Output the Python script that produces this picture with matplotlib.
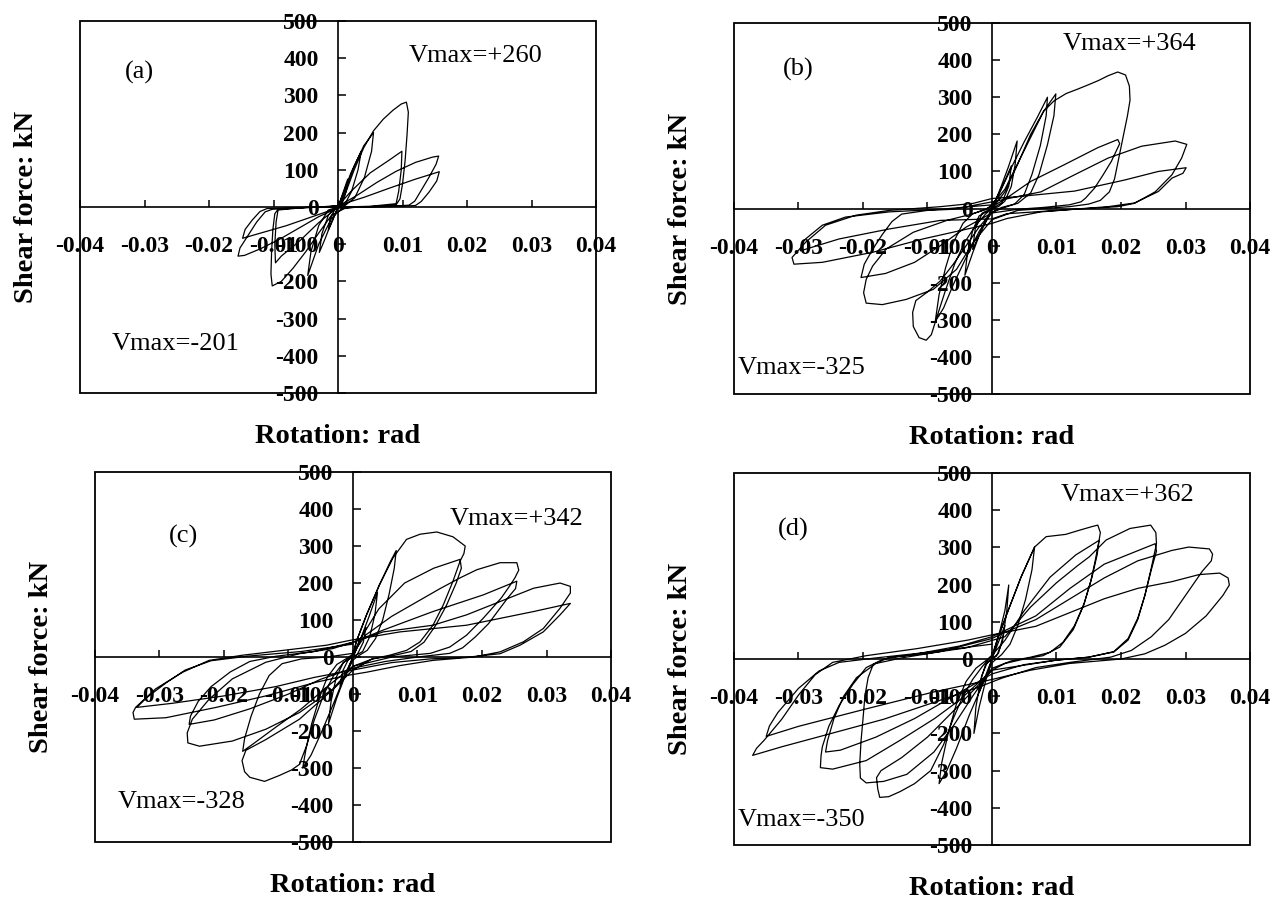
"""
Courbes d'hysteresis effort tranchant / rotation pour quatre specimens (a)-(d).
Figure 2x2, cadres facon Excel avec axes centres sur l'origine.
"""
import matplotlib
matplotlib.use("Agg")
import matplotlib.pyplot as plt
from matplotlib.patches import Rectangle

plt.rcParams["font.family"] = ["Liberation Serif", "DejaVu Serif"]

# ---- axes ----
x_ticks = [-0.04, -0.03, -0.02, -0.01, 0.0, 0.01, 0.02, 0.03, 0.04]
x_tick_labels = ["-0.04", "-0.03", "-0.02", "-0.01", "0", "0.01", "0.02", "0.03", "0.04"]
y_ticks = [-500, -400, -300, -200, -100, 0, 100, 200, 300, 400, 500]
y_tick_labels = ["-500", "-400", "-300", "-200", "-100", "0", "100", "200", "300", "400", "500"]

panel_tags = ["(a)", "(b)", "(c)", "(d)"]
vmax_pos = ["Vmax=+260", "Vmax=+364", "Vmax=+342", "Vmax=+362"]
vmax_neg = ["Vmax=-201", "Vmax=-325", "Vmax=-328", "Vmax=-350"]

# ---- courbes : (rotation rad, effort kN) ----
hyst_a = [
    (0.0, 0), (0.0008, 40), (0.0015, 75), (0.0013, 45), (0.0006, 8), (0.0, 0),
    (-0.0008, -35), (-0.0015, -62), (-0.0012, -30), (-0.0004, -4), (0.0, 0),
    (0.001, 45), (0.002, 92), (0.0032, 135), (0.0036, 150), (0.0031, 100), (0.0021, 42), (0.001, 6), (0.0, 0),
    (-0.001, -40), (-0.002, -85), (-0.0029, -122), (-0.0025, -72), (-0.0015, -22), (-0.0005, -3), (0.0, 0),
    (0.001, 40), (0.0025, 110), (0.004, 165), (0.0055, 200), (0.0052, 150), (0.0041, 80), (0.0026, 25), (0.001, 3),
    (-0.001, -30), (-0.003, -100), (-0.0047, -184), (-0.0042, -120), (-0.003, -50), (-0.0015, -8), (0.0, 0),
    (0.001, 30), (0.0025, 100), (0.004, 160), (0.0055, 205), (0.007, 236), (0.0085, 260), (0.0098, 277),
    (0.0106, 282), (0.0109, 255), (0.0107, 195), (0.0104, 125), (0.0100, 62), (0.0096, 22), (0.0090, 6),
    (0.006, 2), (0.003, 0), (0.001, -4), (-0.001, -22), (-0.003, -70), (-0.005, -120), (-0.007, -165),
    (-0.0088, -200), (-0.0102, -212), (-0.0104, -180), (-0.0103, -120), (-0.0101, -60), (-0.0098, -18),
    (-0.0093, -6), (-0.006, -2), (-0.002, 0), (0.0, 3),
    (0.002, 42), (0.005, 92), (0.008, 127), (0.0099, 150), (0.0098, 100), (0.0094, 42), (0.0090, 9),
    (0.005, 2), (0.0, 0), (-0.003, -42), (-0.006, -92), (-0.0088, -132), (-0.0097, -150), (-0.0098, -100),
    (-0.0096, -40), (-0.0093, -8), (-0.005, -1), (0.0, 2),
    (0.003, 32), (0.006, 66), (0.009, 96), (0.012, 120), (0.0146, 134), (0.0156, 137), (0.0152, 115),
    (0.0141, 80), (0.0129, 45), (0.0119, 16), (0.0110, 5), (0.008, 2), (0.004, 0), (0.0, -2),
    (-0.003, -26), (-0.006, -56), (-0.009, -86), (-0.012, -112), (-0.0145, -130), (-0.0155, -132),
    (-0.0152, -110), (-0.0139, -75), (-0.0126, -40), (-0.0113, -13), (-0.0102, -6), (-0.007, -3),
    (-0.003, 0), (0.0, 4),
    (0.004, 26), (0.008, 51), (0.012, 75), (0.0157, 95), (0.0153, 70), (0.0141, 40), (0.0129, 15),
    (0.012, 4), (0.008, 1), (0.003, 0), (0.0, -2), (-0.004, -26), (-0.008, -50), (-0.012, -70),
    (-0.0148, -84), (-0.0144, -60), (-0.0133, -35), (-0.0121, -12), (-0.011, -4), (-0.006, -1), (0.0, 0),
]

hyst_b = [
    (0.0, 0), (0.001, 40), (0.002, 75), (0.003, 115), (0.0026, 60), (0.0015, 15), (0.0, 0),
    (-0.001, -38), (-0.002, -72), (-0.003, -110), (-0.0026, -55), (-0.0015, -12), (0.0, 0),
    (0.001, 40), (0.0025, 110), (0.0039, 182), (0.0036, 120), (0.003, 60), (0.002, 20), (0.001, 5), (0.0, 0),
    (-0.0015, -50), (-0.003, -120), (-0.0042, -180), (-0.0038, -120), (-0.003, -60), (-0.002, -20), (0.0, 0),
    (0.001, 35), (0.003, 110), (0.005, 180), (0.007, 245), (0.0086, 300), (0.0084, 250), (0.0075, 170),
    (0.0062, 92), (0.005, 38), (0.0035, 12), (0.002, 3), (0.0, -10), (-0.002, -62), (-0.004, -132),
    (-0.006, -205), (-0.0075, -268), (-0.0088, -305), (-0.0082, -232), (-0.0072, -160), (-0.006, -92),
    (-0.0045, -40), (-0.003, -14), (-0.001, -3), (0.0, 10),
    (0.002, 52), (0.004, 122), (0.006, 192), (0.008, 262), (0.0099, 309), (0.0096, 250), (0.0086, 172),
    (0.0073, 92), (0.006, 42), (0.004, 14), (0.0015, 3), (0.0, -10), (-0.002, -50), (-0.004, -100),
    (-0.006, -150), (-0.008, -195), (-0.010, -225), (-0.0118, -248), (-0.0123, -280), (-0.0122, -318),
    (-0.0113, -348), (-0.0102, -355), (-0.0094, -340), (-0.0085, -290), (-0.0072, -220), (-0.0058, -150),
    (-0.0042, -90), (-0.0025, -45), (-0.001, -15), (0.0, 0),
    (0.002, 45), (0.004, 120), (0.006, 200), (0.008, 262), (0.0096, 290), (0.0115, 310), (0.0133, 322),
    (0.015, 334), (0.0165, 345), (0.018, 358), (0.0195, 368), (0.0207, 360), (0.0213, 330), (0.0214, 292),
    (0.021, 250), (0.0203, 190), (0.0196, 130), (0.019, 80), (0.0182, 45), (0.0168, 22), (0.015, 12),
    (0.012, 5), (0.008, 0), (0.004, -5), (0.0, -30), (-0.0029, -91), (-0.0055, -164), (-0.0091, -218),
    (-0.0133, -245), (-0.017, -259), (-0.0195, -255), (-0.0199, -227), (-0.0195, -191), (-0.0185, -155),
    (-0.0164, -109), (-0.0122, -64), (-0.007, -32), (-0.0029, -14), (0.0, 5),
    (0.002, 25), (0.006, 73), (0.0112, 118), (0.0164, 164), (0.0195, 186), (0.0198, 175), (0.0185, 127),
    (0.0172, 90), (0.0159, 55), (0.0145, 28), (0.0138, 18), (0.012, 10), (0.008, 3), (0.004, -2),
    (0.0, -12), (-0.004, -50), (-0.008, -100), (-0.012, -145), (-0.0165, -175), (-0.0203, -186),
    (-0.0198, -150), (-0.0185, -110), (-0.017, -70), (-0.0155, -35), (-0.014, -15), (-0.010, -5),
    (-0.006, -2), (0.0, 18),
    (0.0076, 45), (0.0128, 91), (0.018, 136), (0.0232, 168), (0.0284, 182), (0.0302, 173), (0.0294, 136),
    (0.0279, 91), (0.0253, 45), (0.0221, 14), (0.0195, 5), (0.0128, -2), (0.0076, -9), (0.0023, -27),
    (0.0, -40), (-0.003, -52), (-0.0107, -82), (-0.0185, -118), (-0.0263, -145), (-0.0307, -150),
    (-0.031, -132), (-0.0289, -91), (-0.0258, -45), (-0.0211, -18), (-0.0159, -5), (-0.008, 5),
    (-0.0029, 14), (0.0, 27),
    (0.004, 32), (0.0128, 47), (0.0206, 77), (0.0258, 100), (0.0301, 110), (0.0296, 95), (0.0279, 82),
    (0.0258, 46), (0.0221, 15), (0.018, 5), (0.0102, -5), (0.0023, -14), (0.0, -28), (-0.008, -32),
    (-0.0159, -55), (-0.0237, -82), (-0.0297, -114), (-0.0295, -95), (-0.0289, -82), (-0.0263, -45),
    (-0.0227, -23), (-0.0159, -9), (-0.008, -2), (0.0, 10),
]

hyst_c = [
    (0.0, 0), (0.001, 40), (0.002, 80), (0.0016, 40), (0.0007, 8), (0.0, 0),
    (-0.001, -38), (-0.002, -78), (-0.0016, -38), (-0.0007, -6), (0.0, 0),
    (0.0012, 50), (0.0025, 110), (0.0038, 175), (0.0034, 115), (0.0026, 55), (0.0015, 15), (0.0, 0),
    (-0.0012, -50), (-0.0025, -110), (-0.0038, -180), (-0.0034, -120), (-0.0026, -55), (-0.0015, -15), (0.0, 0),
    (0.0005, 41), (0.0021, 114), (0.0041, 195), (0.0058, 258), (0.0067, 288), (0.0064, 240), (0.0056, 170),
    (0.0046, 100), (0.0035, 50), (0.0022, 18), (0.001, 5), (0.0, -8), (-0.0015, -60), (-0.003, -125),
    (-0.0048, -200), (-0.0065, -265), (-0.0078, -300), (-0.0073, -250), (-0.0064, -180), (-0.0052, -110),
    (-0.004, -55), (-0.0025, -20), (-0.001, -4), (0.0, 8),
    (0.0005, 41), (0.0021, 114), (0.0041, 195), (0.0062, 268), (0.0083, 318), (0.0104, 332), (0.013, 338),
    (0.0155, 325), (0.0174, 300), (0.0172, 280), (0.0166, 259), (0.0155, 205), (0.014, 141), (0.0124, 86),
    (0.0104, 41), (0.0083, 18), (0.0057, 5), (0.003, -5), (0.0, -35), (-0.003, -86), (-0.0083, -168),
    (-0.0135, -223), (-0.0166, -252), (-0.0172, -280), (-0.0168, -310), (-0.016, -325), (-0.0137, -336),
    (-0.0114, -320), (-0.0095, -305), (-0.0083, -290), (-0.0072, -240), (-0.006, -170), (-0.0045, -100),
    (-0.003, -50), (-0.0015, -15), (0.0, 5),
    (0.001, 45), (0.004, 130), (0.008, 200), (0.0125, 240), (0.0166, 264), (0.0168, 240), (0.016, 200),
    (0.0145, 140), (0.0128, 85), (0.011, 40), (0.009, 15), (0.006, 3), (0.003, -5), (0.0, -25),
    (-0.004, -80), (-0.008, -140), (-0.012, -190), (-0.0155, -235), (-0.0171, -255), (-0.0168, -220),
    (-0.0158, -160), (-0.0145, -100), (-0.013, -50), (-0.011, -18), (-0.008, -5), (-0.004, 0), (0.0, 10),
    (0.002, 60), (0.006, 110), (0.010, 150), (0.0135, 185), (0.0166, 214), (0.0192, 236), (0.0228, 255),
    (0.0254, 255), (0.0257, 235), (0.0251, 214), (0.0244, 195), (0.023, 160), (0.0202, 105), (0.0176, 59),
    (0.015, 27), (0.012, 10), (0.006, 0), (0.0, -25), (-0.0031, -86), (-0.0083, -150), (-0.0135, -195),
    (-0.0187, -227), (-0.0238, -241), (-0.0256, -232), (-0.0257, -205), (-0.0249, -168), (-0.0223, -114),
    (-0.0187, -59), (-0.0135, -14), (-0.0083, 9), (-0.0031, 23), (0.0, 40),
    (0.0047, 73), (0.0124, 123), (0.0202, 168), (0.0254, 205), (0.0252, 185), (0.024, 160), (0.0225, 125),
    (0.021, 90), (0.019, 55), (0.017, 25), (0.015, 10), (0.010, 0), (0.005, -12), (0.0, -30),
    (-0.005, -60), (-0.010, -100), (-0.016, -140), (-0.0215, -170), (-0.0254, -182), (-0.0252, -160),
    (-0.024, -120), (-0.022, -80), (-0.019, -40), (-0.016, -12), (-0.012, 2), (-0.006, 15), (0.0, 40),
    (0.0047, 68), (0.0124, 86), (0.0176, 114), (0.0228, 150), (0.028, 186), (0.0321, 200), (0.0337, 191),
    (0.0337, 173), (0.0321, 132), (0.0295, 77), (0.0264, 41), (0.0228, 14), (0.0187, 0), (0.0124, -9),
    (0.0073, -23), (0.0021, -41), (-0.001, -50), (-0.0057, -68), (-0.0135, -105), (-0.0212, -136),
    (-0.029, -164), (-0.0339, -168), (-0.0341, -150), (-0.0337, -136), (-0.0306, -86), (-0.0264, -41),
    (-0.0223, -9), (-0.0171, 5), (-0.0109, 18), (-0.0041, 32), (-0.0005, 45),
    (0.0073, 68), (0.0176, 86), (0.028, 123), (0.0337, 145), (0.0321, 114), (0.0295, 68), (0.0259, 32),
    (0.0228, 9), (0.018, 0), (0.012, -5), (0.006, -15), (0.0, -35), (-0.006, -55), (-0.012, -80),
    (-0.020, -105), (-0.028, -125), (-0.0335, -136), (-0.032, -110), (-0.029, -70), (-0.026, -35),
    (-0.022, -10), (-0.016, 3), (-0.008, 15), (0.0, 35),
]

hyst_d = [
    (0.0, 0), (0.001, 45), (0.002, 90), (0.0016, 45), (0.0007, 8), (0.0, 0),
    (-0.001, -45), (-0.002, -90), (-0.0016, -45), (-0.0007, -8), (0.0, 0),
    (0.001, 60), (0.002, 130), (0.0026, 199), (0.0023, 130), (0.0017, 60), (0.001, 15), (0.0, 0),
    (-0.001, -60), (-0.002, -130), (-0.0028, -200), (-0.0025, -130), (-0.0018, -60), (-0.001, -15), (0.0, 0),
    (0.0008, 51), (0.0025, 130), (0.0045, 220), (0.0066, 301), (0.0062, 240), (0.0052, 160), (0.004, 90),
    (0.0028, 40), (0.0015, 12), (0.0, -10), (-0.0015, -70), (-0.0035, -150), (-0.0055, -240),
    (-0.007, -300), (-0.0082, -335), (-0.0078, -280), (-0.0068, -200), (-0.0055, -120), (-0.004, -60),
    (-0.0025, -25), (-0.001, -5), (0.0, 10),
    (0.0008, 51), (0.0025, 130), (0.0045, 220), (0.0066, 301), (0.0084, 329), (0.0114, 335),
    (0.0137, 347), (0.0155, 356), (0.0164, 360), (0.0168, 340), (0.0166, 319), (0.016, 264),
    (0.0153, 208), (0.0142, 144), (0.0126, 79), (0.0105, 32), (0.0079, 9), (0.005, 0), (0.002, -12),
    (0.0, -30), (-0.0026, -79), (-0.006, -140), (-0.010, -210), (-0.014, -265), (-0.0172, -300),
    (-0.0179, -319), (-0.0177, -350), (-0.0174, -372), (-0.016, -370), (-0.0142, -356), (-0.012, -335),
    (-0.0095, -300), (-0.0075, -230), (-0.006, -160), (-0.0045, -100), (-0.003, -55), (-0.0015, -20), (0.0, 10),
    (0.002, 50), (0.005, 130), (0.009, 220), (0.013, 280), (0.0166, 319), (0.0163, 280), (0.0155, 220),
    (0.0143, 150), (0.0128, 90), (0.011, 45), (0.009, 18), (0.006, 5), (0.003, -5), (0.0, -25),
    (-0.003, -100), (-0.006, -180), (-0.009, -250), (-0.0132, -310), (-0.0168, -329), (-0.0195, -333),
    (-0.0204, -320), (-0.0205, -282), (-0.0203, -220), (-0.020, -162), (-0.0197, -100), (-0.0192, -50),
    (-0.0184, -14), (-0.0158, 5), (-0.010, 15), (-0.004, 30), (0.0, 50),
    (0.002, 60), (0.006, 140), (0.010, 205), (0.0132, 250), (0.0151, 275), (0.0177, 320), (0.0214, 351),
    (0.0246, 360), (0.0254, 340), (0.0255, 310), (0.0247, 245), (0.0237, 171), (0.0226, 106),
    (0.0211, 51), (0.0189, 19), (0.015, 5), (0.010, -3), (0.0, -30), (-0.005, -110), (-0.0089, -160),
    (-0.0142, -218), (-0.0195, -273), (-0.0247, -296), (-0.0266, -292), (-0.0265, -260), (-0.0263, -236),
    (-0.0253, -181), (-0.0237, -125), (-0.0216, -69), (-0.0195, -23), (-0.0168, 0), (-0.0116, 14),
    (-0.005, 35), (0.0, 60),
    (0.0068, 116), (0.0121, 190), (0.0174, 255), (0.0253, 310), (0.0255, 290), (0.0247, 240),
    (0.0237, 171), (0.0226, 110), (0.0211, 55), (0.0189, 20), (0.015, 5), (0.010, -3), (0.005, -15),
    (0.0, -40), (-0.006, -100), (-0.012, -160), (-0.018, -210), (-0.0235, -245), (-0.0258, -250),
    (-0.0255, -220), (-0.0245, -160), (-0.023, -100), (-0.021, -50), (-0.018, -12), (-0.014, 3),
    (-0.008, 20), (0.0, 55),
    (0.0016, 69), (0.0068, 106), (0.0121, 162), (0.0174, 218), (0.0226, 264), (0.0279, 292),
    (0.0305, 301), (0.0337, 296), (0.0342, 282), (0.034, 264), (0.0326, 236), (0.030, 171),
    (0.0274, 106), (0.0247, 60), (0.0216, 23), (0.0184, 5), (0.0121, -9), (0.0068, -23), (0.0016, -51),
    (-0.0026, -79), (-0.0089, -116), (-0.0168, -162), (-0.0247, -199), (-0.0326, -236), (-0.0371, -259),
    (-0.0365, -240), (-0.0353, -218), (-0.0326, -162), (-0.030, -97), (-0.0274, -42), (-0.0247, -9),
    (-0.0195, 9), (-0.0116, 28), (-0.0037, 51), (0.0, 65),
    (0.0068, 88), (0.0121, 125), (0.0174, 162), (0.0226, 190), (0.0279, 208), (0.0321, 227),
    (0.0353, 231), (0.0366, 218), (0.0368, 199), (0.0358, 171), (0.0332, 116), (0.030, 69),
    (0.0268, 37), (0.0237, 14), (0.020, 0), (0.012, -12), (0.006, -30), (0.0, -55), (-0.0089, -88),
    (-0.0195, -134), (-0.030, -181), (-0.035, -208), (-0.0345, -180), (-0.0332, -144), (-0.030, -79),
    (-0.0268, -32), (-0.0237, -9), (-0.018, 3), (-0.010, 18), (0.0, 40),
]

curves = [hyst_a, hyst_b, hyst_c, hyst_d]

# cadres des 4 panneaux en fraction de figure (gauche, bas, largeur, hauteur)
rects = [
    (0.0626, 0.5633, 0.4038, 0.4133),
    (0.5743, 0.5622, 0.4038, 0.4122),
    (0.0743, 0.0644, 0.4038, 0.4111),
    (0.5743, 0.0611, 0.4038, 0.4133),
]
# positions des annotations (coordonnees donnees)
tag_xy = [(-0.0308, 362), (-0.0301, 376), (-0.0262, 327), (-0.0308, 347)]
pos_xy = [(0.0214, 407), (0.0213, 444), (0.0253, 373), (0.0210, 442)]
neg_xy = [(-0.0251, -368), (-0.0295, -431), (-0.0265, -393), (-0.0295, -433)]


def style_axes(ax):
    ax.set_xlim(-0.04, 0.04)
    ax.set_ylim(-500, 500)
    ax.spines["top"].set_visible(False)
    ax.spines["right"].set_visible(False)
    for side in ["left", "bottom"]:
        ax.spines[side].set_position(("data", 0))
        ax.spines[side].set_linewidth(1.2)
    ax.add_patch(Rectangle((0, 0), 1, 1, transform=ax.transAxes, fill=False,
                           lw=1.3, ec="black", clip_on=False, zorder=5))
    ax.set_xticks(x_ticks)
    ax.set_xticklabels(x_tick_labels)
    ax.set_yticks(y_ticks)
    ax.set_yticklabels(y_tick_labels)
    ax.tick_params(axis="x", direction="in", length=5, width=1.1, pad=21, labelsize=17)
    ax.tick_params(axis="y", direction="in", length=6, width=1.1, pad=14, labelsize=17)
    for lab in ax.get_xticklabels() + ax.get_yticklabels():
        lab.set_fontweight("bold")
    ax.patch.set_alpha(0)


fig = plt.figure(figsize=(12.78, 9.0), dpi=100)
fig.patch.set_facecolor("white")

for i in range(4):
    ax = fig.add_axes(rects[i])
    style_axes(ax)
    xs = [p[0] for p in curves[i]]
    ys = [p[1] for p in curves[i]]
    ax.plot(xs, ys, color="black", lw=0.9, zorder=4)
    ax.text(tag_xy[i][0], tag_xy[i][1], panel_tags[i], fontsize=19, ha="center", va="center")
    ax.text(pos_xy[i][0], pos_xy[i][1], vmax_pos[i], fontsize=19, ha="center", va="center")
    ax.text(neg_xy[i][0], neg_xy[i][1], vmax_neg[i], fontsize=19, ha="center", va="center")
    ax.text(-0.103, 0.5, "Shear force: kN", transform=ax.transAxes, rotation=90,
            fontsize=20.5, fontweight="bold", ha="center", va="center")
    ax.text(0.5, -0.118, "Rotation: rad", transform=ax.transAxes,
            fontsize=20.5, fontweight="bold", ha="center", va="center")

fig.savefig("out.png", dpi=100)
plt.close(fig)
